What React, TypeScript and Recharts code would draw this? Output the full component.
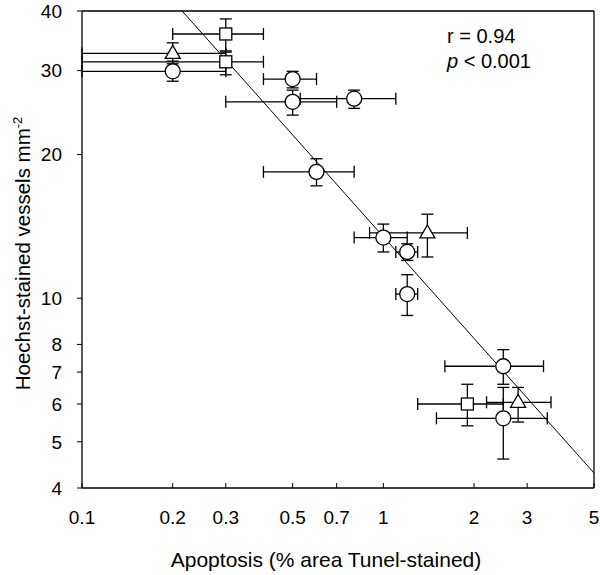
import {
  ErrorBar,
  Label,
  ReferenceLine,
  Scatter,
  ScatterChart,
  XAxis,
  YAxis,
} from "recharts";

// Log-log scatter: apoptosis vs Hoechst-stained vessel density, with x/y error bars.

const xTicks = [0.1, 0.2, 0.3, 0.5, 0.7, 1, 2, 3, 5];
const yTicks = [4, 5, 6, 7, 8, 10, 20, 30, 40];

const circleX = [0.2, 0.5, 0.5, 0.8, 0.6, 1.0, 1.2, 1.2, 2.5, 2.5];
const circleY = [29.9, 28.8, 25.8, 26.2, 18.4, 13.4, 12.5, 10.2, 7.2, 5.6];
const circleXLow = [0.1, 0.4, 0.3, 0.53, 0.4, 0.8, 1.1, 1.1, 1.6, 1.5];
const circleXHigh = [0.3, 0.6, 0.7, 1.1, 0.8, 1.2, 1.3, 1.3, 3.4, 3.5];
const circleYLow = [28.5, 27.6, 24.2, 25.0, 17.2, 12.5, 12.0, 9.2, 6.6, 4.6];
const circleYHigh = [31.4, 29.9, 27.3, 27.3, 19.6, 14.3, 13.0, 11.2, 7.8, 6.5];

const squareX = [0.3, 0.3, 1.9];
const squareY = [35.8, 31.3, 6.0];
const squareXLow = [0.2, 0.1, 1.3];
const squareXHigh = [0.4, 0.4, 2.5];
const squareYLow = [33.0, 29.4, 5.4];
const squareYHigh = [38.5, 32.8, 6.6];

const triangleX = [0.2, 1.4, 2.8];
const triangleY = [32.6, 13.7, 6.05];
const triangleXLow = [0.1, 0.9, 2.2];
const triangleXHigh = [0.3, 1.9, 3.6];
const triangleYLow = [31.0, 12.2, 5.5];
const triangleYHigh = [34.3, 15.0, 6.5];

// regression line end points (log-log)
const fitX = [0.215, 5];
const fitY = [40, 4.3];

function build(
  xs: number[],
  ys: number[],
  xl: number[],
  xh: number[],
  yl: number[],
  yh: number[],
) {
  return xs.map((x, i) => ({
    x,
    y: ys[i],
    ex: [x - xl[i], xh[i] - x],
    ey: [ys[i] - yl[i], yh[i] - ys[i]],
  }));
}

const circles = build(circleX, circleY, circleXLow, circleXHigh, circleYLow, circleYHigh);
const squares = build(squareX, squareY, squareXLow, squareXHigh, squareYLow, squareYHigh);
const triangles = build(
  triangleX,
  triangleY,
  triangleXLow,
  triangleXHigh,
  triangleYLow,
  triangleYHigh,
);

const FONT = "'Liberation Sans', Arial, sans-serif";

const CircleMark = (p: any) => (
  <circle cx={p.cx} cy={p.cy} r={7.5} fill="#fff" stroke="#000" strokeWidth={1.3} />
);
const SquareMark = (p: any) => (
  <rect x={p.cx - 6} y={p.cy - 6} width={12} height={12} fill="#fff" stroke="#000" strokeWidth={1.3} />
);
const TriangleMark = (p: any) => (
  <path
    d={`M${p.cx},${p.cy - 8} L${p.cx + 7.5},${p.cy + 5} L${p.cx - 7.5},${p.cy + 5} Z`}
    fill="#fff"
    stroke="#000"
    strokeWidth={1.3}
  />
);

function YTitle(props: any) {
  const vb = props.viewBox || { x: 0, y: 11, width: 82, height: 477 };
  const cx = vb.x + 30;
  const cy = vb.y + vb.height / 2 + 4;
  return (
    <text
      transform={`rotate(-90, ${cx}, ${cy})`}
      x={cx}
      y={cy}
      textAnchor="middle"
      fontSize={20.5}
      fontFamily={FONT}
      fill="#000"
    >
      Hoechst-stained vessels mm
      <tspan dy={-8} fontSize={13}>
        -2
      </tspan>
    </text>
  );
}

function XTitle(props: any) {
  const vb = props.viewBox || { x: 82, y: 488, width: 512, height: 87 };
  return (
    <text
      x={vb.x + vb.width / 2 - 12}
      y={567}
      textAnchor="middle"
      fontSize={21}
      fontFamily={FONT}
      fill="#000"
    >
      Apoptosis (% area Tunel-stained)
    </text>
  );
}

const errProps = { stroke: "#000", strokeWidth: 1.3, width: 6 };

export default function App() {
  return (
    <div style={{ position: "absolute", left: 0, top: 0, background: "#fff" }}>
      <ScatterChart
        width={600}
        height={575}
        margin={{ top: 11, right: 6, bottom: 0, left: 0 }}
        style={{ fontFamily: FONT }}
      >
        <XAxis
          type="number"
          dataKey="x"
          scale="log"
          domain={[0.1, 5]}
          allowDataOverflow
          ticks={xTicks}
          interval={0}
          height={87}
          axisLine={{ stroke: "#000", strokeWidth: 1.3 }}
          tickLine={{ stroke: "#000", strokeWidth: 1 }}
          tickSize={-5}
          tickMargin={28}
          tick={{ fontSize: 19, fill: "#000" }}
        >
          <Label content={XTitle} />
        </XAxis>
        <YAxis
          type="number"
          dataKey="y"
          scale="log"
          domain={[4, 40]}
          allowDataOverflow
          ticks={yTicks}
          interval={0}
          width={82}
          axisLine={{ stroke: "#000", strokeWidth: 1.3 }}
          tickLine={{ stroke: "#000", strokeWidth: 1 }}
          tickSize={5}
          tickMargin={15}
          tick={{ fontSize: 19, fill: "#000" }}
        >
          <Label content={YTitle} />
        </YAxis>
        <ReferenceLine y={40} stroke="#000" strokeWidth={1.3} />
        <ReferenceLine x={5} stroke="#000" strokeWidth={1.3} />
        <ReferenceLine
          segment={[
            { x: fitX[0], y: fitY[0] },
            { x: fitX[1], y: fitY[1] },
          ]}
          stroke="#000"
          strokeWidth={1}
        />
        <Scatter data={circles} shape={CircleMark} isAnimationActive={false}>
          <ErrorBar dataKey="ex" direction="x" {...errProps} />
          <ErrorBar dataKey="ey" direction="y" {...errProps} />
        </Scatter>
        <Scatter data={squares} shape={SquareMark} isAnimationActive={false}>
          <ErrorBar dataKey="ex" direction="x" {...errProps} />
          <ErrorBar dataKey="ey" direction="y" {...errProps} />
        </Scatter>
        <Scatter data={triangles} shape={TriangleMark} isAnimationActive={false}>
          <ErrorBar dataKey="ex" direction="x" {...errProps} />
          <ErrorBar dataKey="ey" direction="y" {...errProps} />
        </Scatter>
      </ScatterChart>
      <svg
        width={600}
        height={575}
        style={{ position: "absolute", left: 0, top: 0, pointerEvents: "none" }}
      >
        <text x={447} y={43} fontSize={20} fontFamily={FONT} fill="#000">
          r = 0.94
        </text>
        <text x={447} y={68} fontSize={20} fontFamily={FONT} fill="#000">
          <tspan fontStyle="italic">p</tspan>
          {" < 0.001"}
        </text>
      </svg>
    </div>
  );
}
